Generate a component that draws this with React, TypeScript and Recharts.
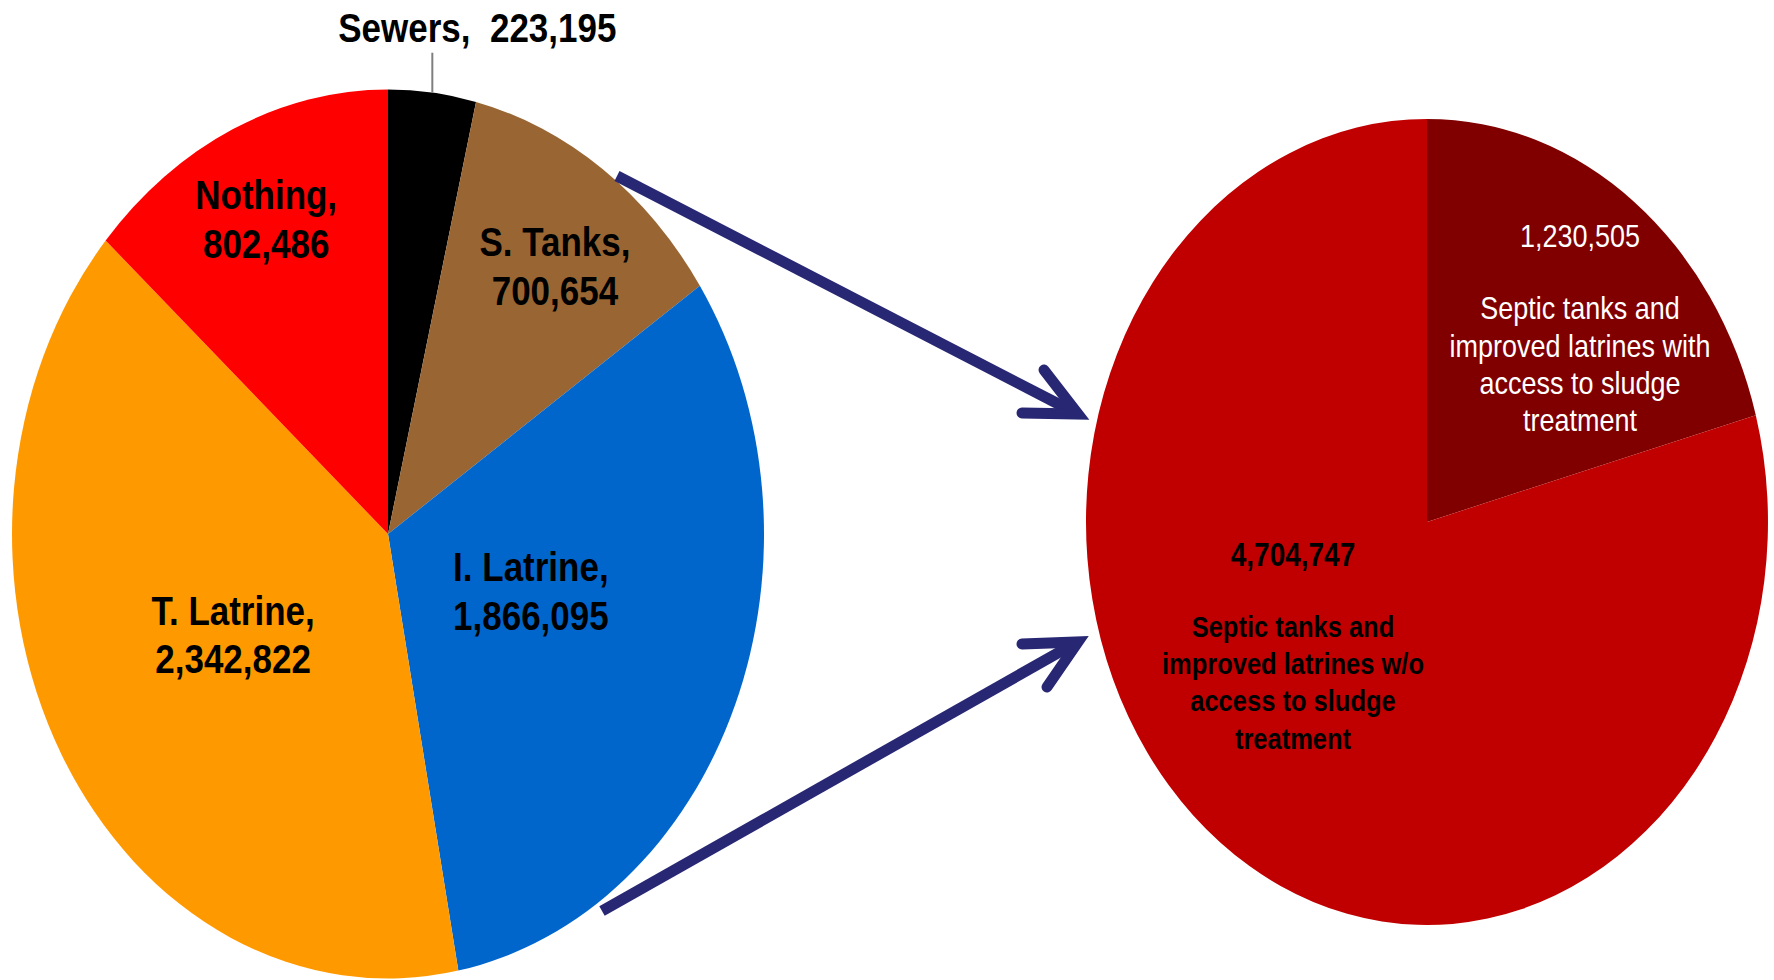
import React from 'react';
import { PieChart, Pie, Cell } from 'recharts';

// ---- data ----
const CATEGORIES = ['Sewers', 'S. Tanks', 'I. Latrine', 'T. Latrine', 'Nothing'];
const HOUSEHOLDS = [223195, 700654, 1866095, 2342822, 802486];
const SLICE_COLORS = ['#000000', '#996633', '#0066CC', '#FF9900', '#FF0000'];

const SLUDGE_CATEGORIES = [
  'Septic tanks and improved latrines with access to sludge treatment',
  'Septic tanks and improved latrines w/o access to sludge treatment',
];
const SLUDGE_VALUES = [1230505, 4704747];
const SLUDGE_COLORS = ['#800000', '#C00000'];
const SLUDGE_LINES = [
  ['Septic tanks and', 'improved latrines with', 'access to sludge', 'treatment'],
  ['Septic tanks and', 'improved latrines w/o', 'access to sludge', 'treatment'],
];

// ---- layout ----
const W = 1774;
const H = 980;
const STRETCH = 1.182; // vertical stretch of the whole chart (pies are ellipses)
const CH = H / STRETCH;
const FONT = '"Liberation Sans", Arial, Helvetica, sans-serif';
const RAD = Math.PI / 180;

// label block centres, as fractions of the radius from the pie centre
const LEFT_LABEL_POS: (number[] | null)[] = [null, [0.444, -0.604], [0.38, 0.129], [-0.412, 0.226], [-0.324, -0.71]];
const RIGHT_LABEL_POS = [[0.449, -0.481], [-0.393, 0.309]];

const fmt = (v: number) => v.toLocaleString('en-US');

const leftData = CATEGORIES.map((name, i) => ({ name, value: HOUSEHOLDS[i] }));
const rightData = SLUDGE_CATEGORIES.map((name, i) => ({ name, value: SLUDGE_VALUES[i] }));

const renderLeftLabel = (props: any) => {
  const { cx, cy, outerRadius, midAngle, index, name, value } = props;
  if (index === 0) {
    const ex = cx + outerRadius * Math.cos(-midAngle * RAD);
    const ey = cy + outerRadius * Math.sin(-midAngle * RAD);
    const topY = cy - outerRadius * 1.083;
    return (
      <g key={`ll-${index}`}>
        <line x1={ex} y1={ey} x2={ex} y2={topY} stroke="#7f7f7f" strokeWidth={2} />
        <text
          x={ex + 45}
          y={topY - 21}
          textAnchor="middle"
          dominantBaseline="central"
          fontFamily={FONT}
          fontWeight="bold"
          fontSize={35}
          fill="#000"
        >
          {`${name},\u00a0\u00a0${fmt(value)}`}
        </text>
      </g>
    );
  }
  const pos = LEFT_LABEL_POS[index] as number[];
  const x = cx + pos[0] * outerRadius;
  const y = cy + pos[1] * outerRadius;
  const common = {
    x,
    textAnchor: 'middle' as const,
    dominantBaseline: 'central' as const,
    fontFamily: FONT,
    fontWeight: 'bold',
    fontSize: 35,
    fill: '#000',
  };
  return (
    <g key={`ll-${index}`}>
      <text {...common} y={y - 20.7}>{`${name},`}</text>
      <text {...common} y={y + 20.7}>{fmt(value)}</text>
    </g>
  );
};

const renderRightLabel = (props: any) => {
  const { cx, cy, outerRadius, index, value } = props;
  const pos = RIGHT_LABEL_POS[index];
  const x = cx + pos[0] * outerRadius;
  const y = cy + pos[1] * outerRadius;
  const white = index === 0;
  const common = {
    x,
    textAnchor: 'middle' as const,
    dominantBaseline: 'central' as const,
    fontFamily: FONT,
    fontWeight: white ? 'normal' : 'bold',
    fontSize: white ? 27 : 25.5,
    fill: white ? '#ffffff' : '#000000',
  };
  const lines = SLUDGE_LINES[index];
  return (
    <g key={`rl-${index}`}>
      <text {...common} fontSize={white ? 27 : 28} y={y - 78}>
        {fmt(value)}
      </text>
      {lines.map((ln, k) => (
        <text key={k} {...common} y={y - 17 + k * 31.6}>
          {ln}
        </text>
      ))}
    </g>
  );
};

const ARROW = '#282773';

export default function App() {
  return (
    <div
      style={{
        position: 'absolute',
        left: 0,
        top: 0,
        width: W,
        height: H,
        overflow: 'hidden',
        background: '#ffffff',
      }}
    >
      <div style={{ width: W, height: CH, transform: `scaleY(${STRETCH})`, transformOrigin: '0 0' }}>
        <PieChart width={W} height={CH} margin={{ top: 0, right: 0, bottom: 0, left: 0 }}>
          <Pie
            data={leftData}
            dataKey="value"
            nameKey="name"
            cx={388}
            cy={451.8}
            outerRadius={376}
            startAngle={90}
            endAngle={-270}
            stroke="none"
            isAnimationActive={false}
            labelLine={false}
            label={renderLeftLabel}
          >
            {leftData.map((d, i) => (
              <Cell key={d.name} fill={SLICE_COLORS[i]} stroke="none" />
            ))}
          </Pie>
          <Pie
            data={rightData}
            dataKey="value"
            nameKey="name"
            cx={1427}
            cy={441.6}
            outerRadius={341}
            startAngle={90}
            endAngle={-270}
            stroke="none"
            isAnimationActive={false}
            labelLine={false}
            label={renderRightLabel}
          >
            {rightData.map((d, i) => (
              <Cell key={d.name} fill={SLUDGE_COLORS[i]} stroke="none" />
            ))}
          </Pie>
        </PieChart>
      </div>
      <svg
        width={W}
        height={H}
        style={{ position: 'absolute', left: 0, top: 0, pointerEvents: 'none' }}
      >
        <g stroke={ARROW} fill="none" strokeWidth={11}>
          <line x1={617} y1={176} x2={1072} y2={411} strokeLinecap="butt" />
          <polyline points="1044,370 1078,414 1022,413" strokeLinecap="round" strokeLinejoin="miter" />
          <line x1={602} y1={911} x2={1072} y2={645} strokeLinecap="butt" />
          <polyline points="1022,644 1078,642 1047,687" strokeLinecap="round" strokeLinejoin="miter" />
        </g>
      </svg>
    </div>
  );
}
